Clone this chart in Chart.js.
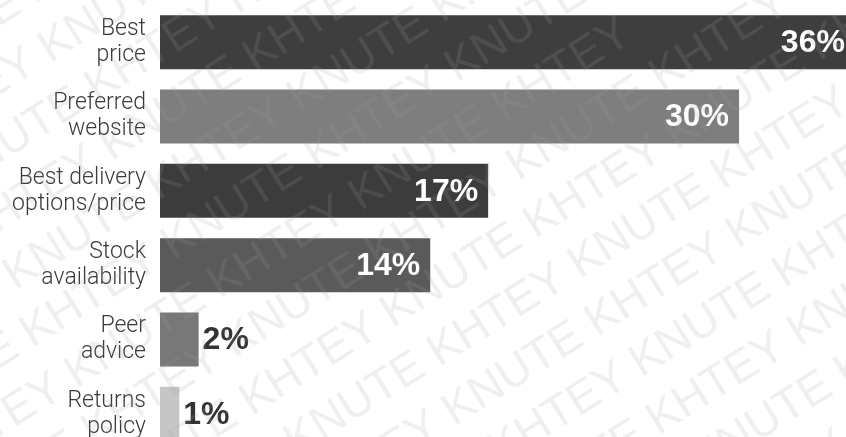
<!DOCTYPE html>
<html>
<head>
<meta charset="utf-8">
<script src="https://cdn.jsdelivr.net/npm/chart.js@4/dist/chart.umd.min.js"></script>
<style>
  html, body { margin: 0; padding: 0; background: #fff; overflow: hidden; }
</style>
</head>
<body>
<canvas id="reasons" width="846" height="451"></canvas>
<script>
// reasons for choosing where to buy, share of answers (%)
const reasons = [
  ['Best', 'price'],
  ['Preferred', 'website'],
  ['Best delivery', 'options/price'],
  ['Stock', 'availability'],
  ['Peer', 'advice'],
  ['Returns', 'policy']
]
const shares = [36, 30, 17, 14, 2, 1]
const barColors = ['#3e3e3e', '#7e7e7e', '#3c3c3c', '#5a5a5a', '#787878', '#c6c6c6']

// prints "36%" etc. inside long bars, next to short ones
const valueLabels = {
  id: 'valueLabels',
  afterDatasetsDraw(chart) {
    const ctx = chart.ctx
    const meta = chart.getDatasetMeta(0)
    ctx.save()
    ctx.font = 'bold 32px "Liberation Sans", Arial, sans-serif'
    ctx.textBaseline = 'middle'
    meta.data.forEach((bar, i) => {
      const v = shares[i]
      const text = v + '%'
      if (v >= 10) {
        ctx.textAlign = 'right'
        ctx.fillStyle = '#ffffff'
        ctx.fillText(text, bar.x - 10, bar.y + 1)
      } else {
        ctx.textAlign = 'left'
        ctx.fillStyle = '#333333'
        ctx.fillText(text, bar.x + 4, bar.y + 1)
      }
    })
    ctx.restore()
  }
}

// faint diagonal "KNUTE KHTEY" stamp over the whole chart
const stamp = {
  id: 'stamp',
  afterDraw(chart) {
    const ctx = chart.ctx
    ctx.save()
    ctx.font = '46px "Liberation Sans", Arial, sans-serif'
    ctx.fillStyle = 'rgba(160,160,160,0.17)'
    ctx.textBaseline = 'middle'
    ctx.translate(chart.width / 2, chart.height / 2)
    ctx.rotate(-32 * Math.PI / 180)
    const line = 'KNUTE KHTEY KNUTE KHTEY KNUTE KHTEY KNUTE KHTEY'
    for (let r = -10; r <= 10; r++) {
      ctx.fillText(line, -900 + (r % 2) * 150, r * 58)
    }
    ctx.restore()
  }
}

new Chart(document.getElementById('reasons'), {
  type: 'bar',
  data: {
    labels: reasons,
    datasets: [{
      data: shares,
      backgroundColor: barColors,
      borderWidth: 0,
      barPercentage: 0.727,
      categoryPercentage: 1
    }]
  },
  options: {
    indexAxis: 'y',
    responsive: false,
    animation: false,
    layout: { padding: { top: 5, right: 0, bottom: 0, left: 0 } },
    plugins: {
      legend: { display: false },
      tooltip: { enabled: false }
    },
    scales: {
      x: {
        display: false,
        min: 0,
        max: 35.54
      },
      y: {
        grid: { display: false, drawTicks: false },
        border: { display: false },
        ticks: {
          color: '#3a3a3a',
          padding: 14,
          font: { family: 'Roboto, "Liberation Sans", sans-serif', size: 23, weight: '300', lineHeight: 1.13 }
        },
        afterFit(scale) {
          // fixed label column, and no extra room for the two-line labels
          scale.width = 160
          scale.paddingTop = 0
          scale.paddingBottom = 0
        }
      }
    }
  },
  plugins: [valueLabels, stamp]
})
</script>
</body>
</html>
